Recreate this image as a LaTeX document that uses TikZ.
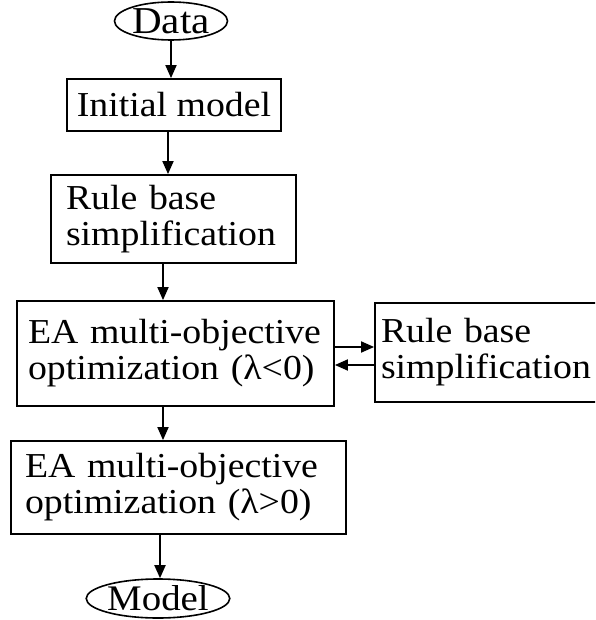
\documentclass[tikz,border=0pt]{standalone}
\usepackage{fontspec}
\setmainfont{Liberation Serif}[FakeStretch=1.08]
\usetikzlibrary{arrows.meta,shapes.geometric}

\begin{document}
\begin{tikzpicture}[x=1pt, y=-1pt, >={Triangle[length=13pt,width=11pt]},
    font=\fontsize{35}{36}\selectfont,
    block/.style={draw, line width=1.8pt, rectangle, align=left, inner ysep=0pt},
    term/.style={draw, line width=1.6pt, ellipse, inner sep=0pt},
    flow/.style={->, line width=1.8pt}]
    \clip (0,0) rectangle (595,620);
    % Nodes {data, init, rbs, ea1, rbs2, ea2, model}
    \node [term, minimum width=113pt, minimum height=38pt, font=\fontsize{38}{38}\selectfont] (data) at (171,21) {Data};
    \node [block, minimum width=214pt, minimum height=52pt, inner xsep=8pt] (init) at (174,105) {Initial model};
    \node [block, minimum width=245pt, minimum height=88pt, inner xsep=15pt, text width=215pt] (rbs) at (173.5,219)
        {Rule base\\simplification};
    \node [block, minimum width=317pt, minimum height=105pt, inner xsep=11pt, text width=295pt] (ea1) at (175.5,353.5)
        {EA multi-objective\\optimization (λ<0)};
    \node [block, minimum width=245pt, minimum height=99pt, inner xsep=6pt, text width=233pt] (rbs2) at (497.5,352.5)
        {Rule base\\simplification};
    \node [block, minimum width=335pt, minimum height=93pt, inner xsep=14pt, text width=307pt] (ea2) at (178.5,487.5)
        {EA multi-objective\\optimization (λ>0)};
    \node [term, minimum width=138pt, minimum height=39pt, font=\fontsize{36}{36}\selectfont] (model) at (158,598.5) {Model};

    % Paths
    \draw [flow] (data.south) -- (data.south |- init.north);
    \draw [flow] ([xshift=-6pt]init.south) -- ([xshift=-6pt]init.south |- rbs.north);
    \draw [flow] ([xshift=-10.5pt]rbs.south) -- ([xshift=-10.5pt]rbs.south |- ea1.north);
    \draw [flow] ([xshift=-12.5pt]ea1.south) -- ([xshift=-12.5pt]ea1.south |- ea2.north);
    \draw [flow] ([xshift=-18.5pt]ea2.south) -- ([xshift=-18.5pt]ea2.south |- model.north);
    \draw [flow] ([yshift=6.5pt]ea1.east) -- ([yshift=6.5pt]ea1.east -| rbs2.west);
    \draw [flow] ([yshift=-11.5pt]ea1.east -| rbs2.west) -- ([yshift=-11.5pt]ea1.east);
\end{tikzpicture}
\end{document}
